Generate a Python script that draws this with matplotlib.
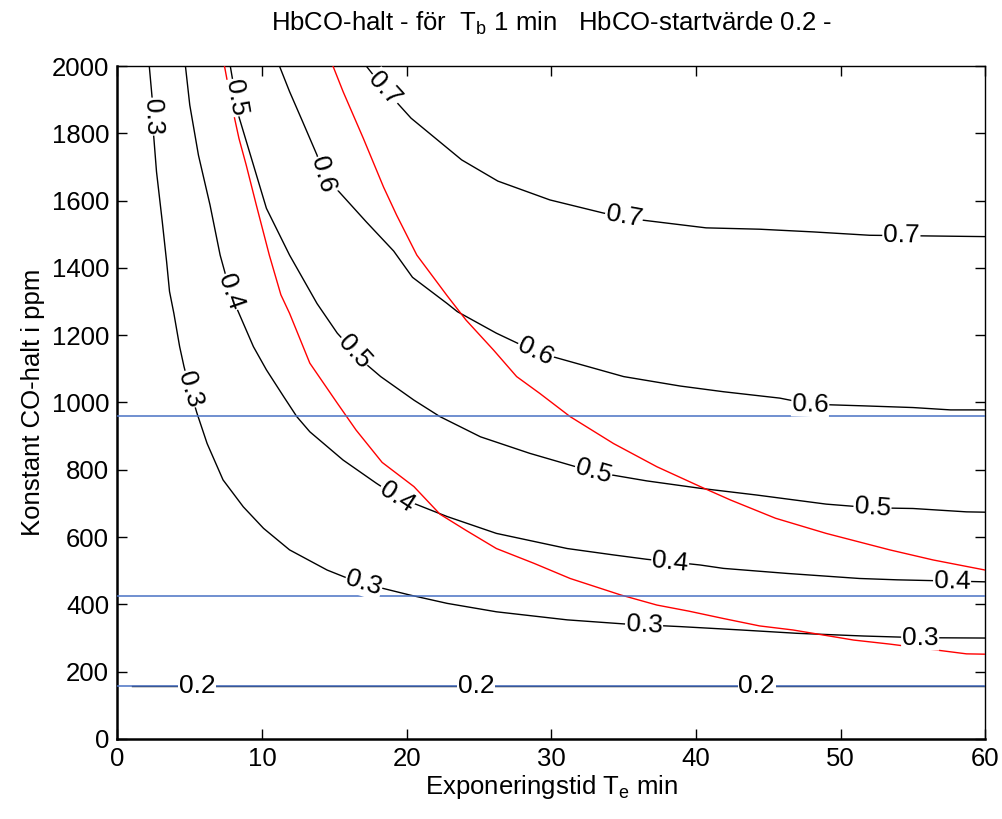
import numpy as np
import matplotlib
matplotlib.use("Agg")
import matplotlib.pyplot as plt

plt.rcParams['font.family'] = ['Liberation Sans', 'DejaVu Sans']
plt.rcParams['mathtext.default'] = 'regular'

# contour lines (x = minutes, y = ppm)
c07_x = [17.2, 18.3, 20.3, 23.8, 26.3, 29.9, 33.6, 36.3, 40.7, 44.4, 48.1, 52.0, 56.0, 60.0]
c07_y = [2000, 1940, 1845, 1721, 1658, 1602, 1563, 1542, 1519, 1515, 1507, 1497, 1495, 1493]

c06_x = [11.2, 11.9, 12.8, 13.8, 14.2, 15.2, 17.2, 19.1, 20.4, 22.8, 23.5, 26.2, 28.9, 30.1,
         35.0, 38.9, 41.9, 45.8, 47.9, 51.6, 55.0, 57.6, 60.0]
c06_y = [2000, 1924, 1835, 1735, 1676, 1632, 1537, 1450, 1372, 1294, 1270, 1206, 1151, 1136,
         1077, 1049, 1032, 1013, 995, 990, 985, 978, 978]

c05_x = [7.8, 8.4, 9.4, 10.3, 11.9, 13.8, 15.2, 17.0, 18.2, 20.5, 22.3, 25.1, 28.5, 32.9,
         36.6, 40.3, 44.2, 49.0, 52.2, 55.0, 58.7, 60.0]
c05_y = [2000, 1849, 1706, 1577, 1438, 1294, 1206, 1121, 1077, 1007, 958, 898, 849, 794,
         767, 745, 725, 698, 687, 685, 675, 674]

c04_x = [4.7, 5.0, 5.6, 6.4, 7.1, 7.6, 8.2, 9.4, 10.3, 11.5, 12.4, 13.3, 15.6, 17.9, 19.5,
         20.5, 22.8, 26.2, 31.1, 34.3, 36.6, 40.3, 41.9, 46.3, 51.3, 53.9, 57.0, 60.0]
c04_y = [2000, 1884, 1735, 1587, 1438, 1360, 1285, 1166, 1097, 1017, 958, 913, 829, 760, 715,
         700, 661, 611, 566, 547, 534, 517, 507, 492, 477, 473, 470, 467]

c03_x = [2.2, 2.4, 2.5, 2.7, 3.1, 3.4, 3.6, 3.9, 4.3, 4.6, 5.0, 5.5, 6.2, 7.3, 8.7, 10.1,
         11.9, 14.5, 15.9, 17.2, 18.6, 20.2, 22.8, 26.2, 31.1, 35.0, 38.9, 43.1, 47.0, 51.6,
         55.5, 60.0]
c03_y = [2000, 1904, 1795, 1686, 1537, 1418, 1330, 1265, 1166, 1107, 1040, 968, 878, 770, 690, 626,
         562, 502, 478, 460, 445, 428, 403, 378, 354, 342, 334, 324, 314, 306,
         301, 300]

c02_x = [1.0, 60.0]
c02_y = [158, 158]

# red limit curves
red1_x = [14.9, 15.6, 17.0, 18.4, 19.3, 20.7, 22.8, 24.1, 26.0, 27.6, 29.2, 31.3, 34.3, 37.3,
          40.3, 42.4, 45.5, 49.0, 53.4, 56.4, 60.0]
red1_y = [2000, 1924, 1785, 1640, 1557, 1438, 1317, 1245, 1156, 1077, 1027, 958, 878, 809,
          750, 710, 656, 611, 562, 532, 502]

red2_x = [7.4, 7.9, 8.4, 8.9, 9.6, 10.5, 11.3, 11.9, 13.3, 15.2, 16.5, 18.3, 20.5, 22.3, 24.1,
          26.2, 28.8, 31.3, 34.8, 37.3, 39.5, 41.9, 44.4, 46.7, 50.9, 53.4, 58.7, 60.0]
red2_y = [2000, 1884, 1785, 1706, 1587, 1438, 1320, 1265, 1117, 998, 918, 822, 750, 668, 620,
          566, 522, 477, 428, 398, 380, 358, 336, 324, 294, 282, 253, 252]

# blue horizontal reference levels (ppm)
blue_levels = [961, 425, 158]

# contour label positions
lab_text = ['0.7', '0.7', '0.7', '0.6', '0.6', '0.6', '0.5', '0.5', '0.5', '0.5',
            '0.4', '0.4', '0.4', '0.4', '0.3', '0.3', '0.3', '0.3', '0.3', '0.2', '0.2', '0.2']
lab_x = [18.4, 35.0, 54.2, 14.2, 28.9, 47.9, 7.9, 16.1, 32.9, 52.2,
         7.8, 19.3, 38.2, 57.7, 2.1, 4.8, 17.0, 36.4, 55.5, 5.5, 24.8, 44.2]
lab_y = [1929, 1548, 1493, 1676, 1151, 993, 1904, 1141, 794, 687,
         1328, 719, 520, 458, 1849, 1037, 458, 329, 299, 158, 158, 158]

curves = {'0.7': (c07_x, c07_y), '0.6': (c06_x, c06_y), '0.5': (c05_x, c05_y),
          '0.4': (c04_x, c04_y), '0.3': (c03_x, c03_y), '0.2': (c02_x, c02_y)}

fig = plt.figure(figsize=(10.03, 8.19), dpi=100)
ax = fig.add_axes([0.1171, 0.0977, 0.8652, 0.8217])
ax.set_xlim(0, 60)
ax.set_ylim(0, 2000)

for key, (cx, cy) in curves.items():
    ax.plot(cx, cy, color='black', lw=1.0, zorder=2)

ax.plot(red1_x, red1_y, color='#ff0000', lw=1.0, zorder=3)
ax.plot(red2_x, red2_y, color='#ff0000', lw=1.0, zorder=3)

for b in blue_levels:
    ax.axhline(b, color='#4a72c4', lw=1.3, alpha=0.85, zorder=4)


def place_label(txt, x, y):
    cx, cy = curves[txt]
    pts = ax.transData.transform(np.column_stack([cx, cy]))
    p = ax.transData.transform((x, y))
    best = None
    for i in range(len(pts) - 1):
        a, b = pts[i], pts[i + 1]
        seg = b - a
        t = np.clip(np.dot(p - a, seg) / max(np.dot(seg, seg), 1e-9), 0, 1)
        q = a + t * seg
        d = np.hypot(*(p - q))
        if best is None or d < best[0]:
            best = (d, q, seg)
    _, q, seg = best
    ang = np.degrees(np.arctan2(seg[1], seg[0]))
    if ang > 90:
        ang -= 180
    if ang < -90:
        ang += 180
    qx, qy = ax.transData.inverted().transform(q)
    ax.text(qx, qy, txt, rotation=ang, rotation_mode='anchor', ha='center', va='center',
            fontsize=19, zorder=5,
            bbox=dict(facecolor='white', edgecolor='none', pad=0.5))


for t, x, y in zip(lab_text, lab_x, lab_y):
    place_label(t, x, y)

ax.set_xticks(np.arange(0, 61, 10))
ax.set_yticks(np.arange(0, 2001, 200))
ax.tick_params(direction='in', length=7, width=1, top=True, right=True, labelsize=18.5, pad=6)
for s in ['bottom', 'left']:
    ax.spines[s].set_linewidth(1.8)
for s in ['top', 'right']:
    ax.spines[s].set_linewidth(1.0)

ax.set_xlabel('Exponeringstid T$_e$ min', fontsize=18.5, labelpad=1)
ax.set_ylabel('Konstant CO-halt i ppm', fontsize=18.5, labelpad=5)
ax.set_title('HbCO-halt - för  T$_b$ 1 min   HbCO-startvärde 0.2 -', fontsize=18.5, pad=25)

fig.savefig('out.png', dpi=100)
